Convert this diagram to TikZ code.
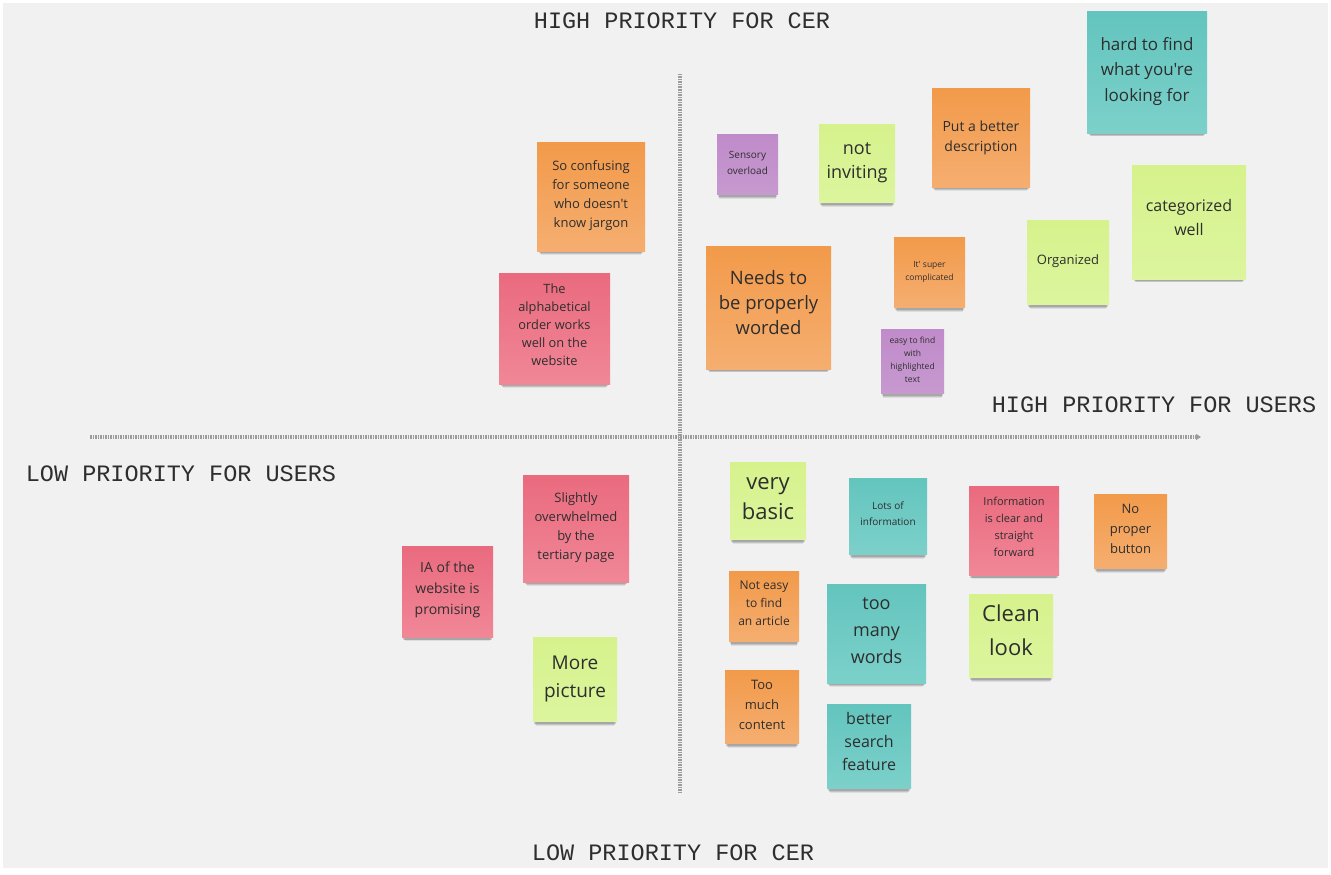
\documentclass[tikz,border=0pt]{standalone}
\usepackage{fontspec}
\setmainfont{Open Sans}[Ligatures=TeXOff]
\newfontfamily\labelfont{Liberation Mono}
\usetikzlibrary{shadows,arrows.meta}
\definecolor{bgray}{HTML}{F1F1F1}
\definecolor{txt}{HTML}{2E2E2E}
\definecolor{orT}{HTML}{F29A4A}
\definecolor{orB}{HTML}{F5AE70}
\definecolor{piT}{HTML}{EA6A7E}
\definecolor{piB}{HTML}{F08797}
\definecolor{puT}{HTML}{C08BCA}
\definecolor{puB}{HTML}{C699CF}
\definecolor{grT}{HTML}{D6F28C}
\definecolor{grB}{HTML}{DCF59E}
\definecolor{teT}{HTML}{63C5BE}
\definecolor{teB}{HTML}{7CD0CA}
\definecolor{axis}{HTML}{9C9C9C}
\newcommand{\fs}[2]{\fontsize{#1}{#2}\selectfont}
\newcommand{\ntext}[2][2pt]{\raisebox{#1}[\height][\depth]{\begin{tabular}{@{}c@{}}#2\end{tabular}}}
\tikzset{
  note/.style={draw=none, inner sep=2pt, align=center, text=txt,
    drop shadow={shadow xshift=0pt, shadow yshift=-8pt, shadow scale=0.93, opacity=0.08, fill=black},
    drop shadow={shadow xshift=0pt, shadow yshift=-6pt, shadow scale=0.95, opacity=0.12, fill=black},
    drop shadow={shadow xshift=0pt, shadow yshift=-4pt, shadow scale=0.97, opacity=0.14, fill=black}},
  nor/.style={note, top color=orT, bottom color=orB},
  npi/.style={note, top color=piT, bottom color=piB},
  npu/.style={note, top color=puT, bottom color=puB},
  ngr/.style={note, top color=grT, bottom color=grB},
  nte/.style={note, top color=teT, bottom color=teB},
  axisline/.style={draw=axis, line width=3.2pt, dash pattern=on 1.5pt off 1pt},
  prio/.style={font=\labelfont\fs{23.5}{26}, text=txt, inner sep=0pt}
}
\begin{document}
\begin{tikzpicture}[x=1pt,y=-1pt]
\useasboundingbox (0,0) rectangle (1331,875);
\fill[white] (0,0) rectangle (1331,875);
\fill[bgray] (3,3) rectangle (1328,868);

% axes
\coordinate (vt) at (680,74);
\coordinate (vb) at (680,793);
\coordinate (hl) at (90,437);
\coordinate (hr) at (1201,437);
\draw[axisline] (vt) -- (vb);
\draw[axisline, -{Triangle[length=5pt,width=6pt,fill=axis]}] (hl) -- (hr);

% priority labels
\node[prio] (hcer) at (682,21) {HIGH PRIORITY FOR CER};
\node[prio] (husr) at (1154,405) {HIGH PRIORITY FOR USERS};
\node[prio] (lusr) at (181,474) {LOW PRIORITY FOR USERS};
\node[prio] (lcer) at (673,853) {LOW PRIORITY FOR CER};

% notes: upper left
\node[nor, minimum width=108pt, minimum height=109pt, font=\fs{13}{19}] (n1) at (591,196.5) {\ntext[1.5pt]{So confusing\\for someone\\who doesn't\\know jargon}};
\node[npi, minimum width=111pt, minimum height=111pt, font=\fs{12.8}{18}] (n2) at (554.5,328.5) {\ntext[2.5pt]{The\\alphabetical\\order works\\well on the\\website}};

% upper right
\node[npu, minimum width=61pt, minimum height=60pt, font=\fs{10}{16}] (n3) at (747.5,164) {\ntext[1pt]{Sensory\\overload}};
\node[ngr, minimum width=76pt, minimum height=78pt, font=\fs{18}{24}] (n4) at (857,163) {\ntext[1.5pt]{not\\inviting}};
\node[nor, minimum width=98pt, minimum height=98pt, font=\fs{14}{20}] (n5) at (981,138) {\ntext[1pt]{Put a better\\description}};
\node[nor, minimum width=125pt, minimum height=123pt, font=\fs{18.5}{25}] (n6) at (768.5,307.5) {\ntext[3.5pt]{Needs to\\be properly\\worded}};
\node[nor, minimum width=71pt, minimum height=70pt, font=\fs{8.5}{13}] (n7) at (929.5,272) {\ntext[1pt]{It' super\\complicated}};
\node[npu, minimum width=63pt, minimum height=64pt, font=\fs{8.5}{13}] (n8) at (912.5,361) {\ntext[1pt]{easy to find\\with\\highlighted\\text}};
\node[nte, minimum width=120pt, minimum height=121pt, font=\fs{17}{25}] (n9) at (1147,72.5) {\ntext[1.5pt]{hard to find\\what you're\\looking for}};
\node[ngr, minimum width=114pt, minimum height=114pt, font=\fs{16}{24}] (n10) at (1189,222) {\ntext[3pt]{categorized\\well}};
\node[ngr, minimum width=82pt, minimum height=84pt, font=\fs{13}{19}] (n11) at (1068,262) {\ntext[1.5pt]{Organized}};

% lower left
\node[npi, minimum width=91pt, minimum height=91pt, font=\fs{14}{21}] (n12) at (447.5,591.5) {\ntext[2pt]{IA of the\\website is\\promising}};
\node[npi, minimum width=106pt, minimum height=107pt, font=\fs{13}{19}] (n13) at (576,528.5) {\ntext[1.5pt]{Slightly\\overwhelmed\\by the\\tertiary page}};
\node[ngr, minimum width=84pt, minimum height=84pt, font=\fs{19}{28}] (n14) at (575,679) {\ntext[1.5pt]{More\\picture}};

% lower right
\node[ngr, minimum width=76pt, minimum height=77pt, font=\fs{22}{30}] (n15) at (768,500.5) {\ntext[2pt]{very\\basic}};
\node[nte, minimum width=78pt, minimum height=76pt, font=\fs{10}{16}] (n16) at (888,516) {\ntext[1.5pt]{Lots of\\information}};
\node[nor, minimum width=70pt, minimum height=70pt, font=\fs{12}{18}] (n17) at (764,606) {\ntext[2pt]{Not easy\\to find\\an article}};
\node[nte, minimum width=99pt, minimum height=99pt, font=\fs{18}{27}] (n18) at (876.5,633.5) {\ntext[2pt]{too\\many\\words}};
\node[nor, minimum width=74pt, minimum height=73pt, font=\fs{13}{20}] (n19) at (762,706.5) {\ntext[1.5pt]{Too\\much\\content}};
\node[nte, minimum width=84pt, minimum height=84pt, font=\fs{16}{23}] (n20) at (869,746) {\ntext[3pt]{better\\search\\feature}};
\node[npi, minimum width=90pt, minimum height=89pt, font=\fs{11}{17}] (n21) at (1014,530.5) {\ntext[3pt]{Information\\is clear and\\straight\\forward}};
\node[nor, minimum width=73pt, minimum height=74pt, font=\fs{13}{20}] (n22) at (1130.5,531) {\ntext[2pt]{No\\proper\\button}};
\node[ngr, minimum width=84pt, minimum height=83pt, font=\fs{22}{34}] (n23) at (1011,635.5) {\ntext[4pt]{Clean\\look}};
\end{tikzpicture}
\end{document}
